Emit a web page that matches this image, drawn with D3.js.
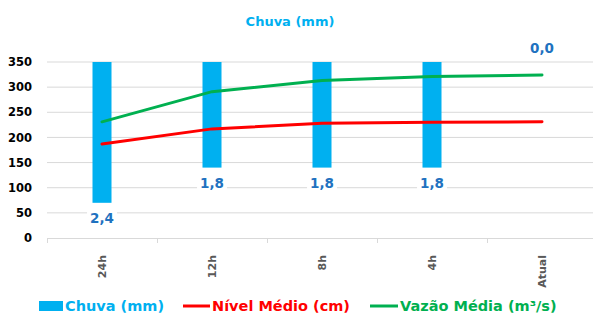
<!DOCTYPE html>
<html><head><meta charset="utf-8">
<script src="https://cdn.jsdelivr.net/npm/d3@7"></script>
<style>html,body{margin:0;padding:0;background:#fff;}svg{display:block;}</style>
</head><body>
<script>
const categories = ["24h", "12h", "8h", "4h", "Atual"];
const chuva = [2.4, 1.8, 1.8, 1.8, 0.0];
const nivel = [187, 217, 228, 230, 231];
const vazao = [231, 291, 313, 321, 324];
const yTicks = [0, 50, 100, 150, 200, 250, 300, 350];
const title = "Chuva (mm)";
const legendNames = ["Chuva (mm)", "Nível Médio (cm)", "Vazão Média (m³/s)"];

const W = 593, H = 316;
const F = "'DejaVu Sans', sans-serif";
const cBar = "#00B0F0", cRed = "#FF0000", cGreen = "#00B050", cLbl = "#1F72C0";

const svg = d3.select("body").append("svg").attr("width", W).attr("height", H);

const x = d3.scaleBand().domain(categories).range([47, 597]);
const y = d3.scaleLinear().domain([0, 350]).range([238, 62]);
const y2 = d3.scaleLinear().domain([0, 3]).range([62, 238]);

// gridlines
svg.append("g").selectAll("line").data(yTicks.filter(d => d > 0)).join("line")
  .attr("x1", 47).attr("x2", W).attr("y1", d => y(d)).attr("y2", d => y(d))
  .attr("stroke", "#D9D9D9").attr("stroke-width", 1);

// y axis labels
const yAxis = d3.axisLeft(y).tickValues(yTicks).tickSize(0).tickPadding(0);
const ya = svg.append("g").attr("transform", "translate(32,0)").call(yAxis);
ya.select(".domain").remove();
ya.selectAll("text").attr("font-family", F).attr("font-weight", "bold")
  .attr("font-size", "11.5px").attr("fill", "#000");

// x axis
const xa = svg.append("g").attr("transform", "translate(0,238)")
  .call(d3.axisBottom(x).tickSize(0).tickPadding(0));
xa.select(".domain").attr("stroke", "#D9D9D9").attr("d", "M47,0.5H" + W);
xa.selectAll("text").attr("font-family", F).attr("font-weight", "bold")
  .attr("font-size", "11px").attr("fill", "#595959")
  .attr("text-anchor", "end").attr("dy", "0.35em")
  .attr("transform", "translate(0,17) rotate(-90)");
// category boundary ticks
svg.append("g").selectAll("line").data(categories).join("line")
  .attr("x1", d => x(d) + 0.5).attr("x2", d => x(d) + 0.5)
  .attr("y1", 238).attr("y2", 243).attr("stroke", "#D9D9D9");

// bars (secondary reversed axis)
const bw = 19;
svg.append("g").selectAll("rect").data(categories).join("rect")
  .attr("x", d => x(d) + x.bandwidth() / 2 - bw / 2)
  .attr("width", bw)
  .attr("y", y2(0))
  .attr("height", (d, i) => y2(chuva[i]) - y2(0))
  .attr("fill", cBar);

// lines
const line = d3.line().x((d, i) => x(categories[i]) + x.bandwidth() / 2).y(d => y(d));
svg.append("path").datum(nivel).attr("d", line).attr("fill", "none")
  .attr("stroke", cRed).attr("stroke-width", 3).attr("stroke-linecap", "round");
svg.append("path").datum(vazao).attr("d", line).attr("fill", "none")
  .attr("stroke", cGreen).attr("stroke-width", 3).attr("stroke-linecap", "round");

// data labels
const fmt = v => v.toFixed(1).replace(".", ",");
const lg = svg.append("g");
categories.forEach((c, i) => {
  const cx = x(c) + x.bandwidth() / 2;
  const cy = chuva[i] > 0 ? y2(chuva[i]) + 15.5 : y2(0) - 14;
  const t = lg.append("text").attr("x", cx).attr("y", cy).attr("dy", "0.35em")
    .attr("text-anchor", "middle").attr("font-family", F).attr("font-weight", "bold")
    .attr("font-size", "13.5px").attr("fill", cLbl).text(fmt(chuva[i]));
  const bb = t.node().getBBox();
  lg.insert("rect", "text").attr("x", bb.x - 3).attr("y", bb.y).attr("width", bb.width + 6)
    .attr("height", bb.height).attr("fill", "#fff");
});

// title
svg.append("text").attr("x", 290).attr("y", 21).attr("dy", "0.35em")
  .attr("text-anchor", "middle").attr("font-family", F).attr("font-weight", "bold")
  .attr("font-size", "13px").attr("fill", cBar).text(title);

// legend
const legY = 306;
const leg = svg.append("g");
const items = [
  {x: 39, w: 24, color: cBar, type: "rect", tx: 65},
  {x: 183, w: 27, color: cRed, type: "line", tx: 212},
  {x: 370, w: 28, color: cGreen, type: "line", tx: 400}
];
items.forEach((it, i) => {
  if (it.type === "rect") {
    leg.append("rect").attr("x", it.x).attr("y", legY - 5).attr("width", it.w).attr("height", 10).attr("fill", it.color);
  } else {
    leg.append("line").attr("x1", it.x).attr("x2", it.x + it.w).attr("y1", legY).attr("y2", legY)
      .attr("stroke", it.color).attr("stroke-width", 3);
  }
  leg.append("text").attr("x", it.tx).attr("y", legY).attr("dy", "0.35em")
    .attr("font-family", F).attr("font-weight", "bold").attr("font-size", "14.5px")
    .attr("fill", it.color).text(legendNames[i]);
});
</script>
</body></html>
